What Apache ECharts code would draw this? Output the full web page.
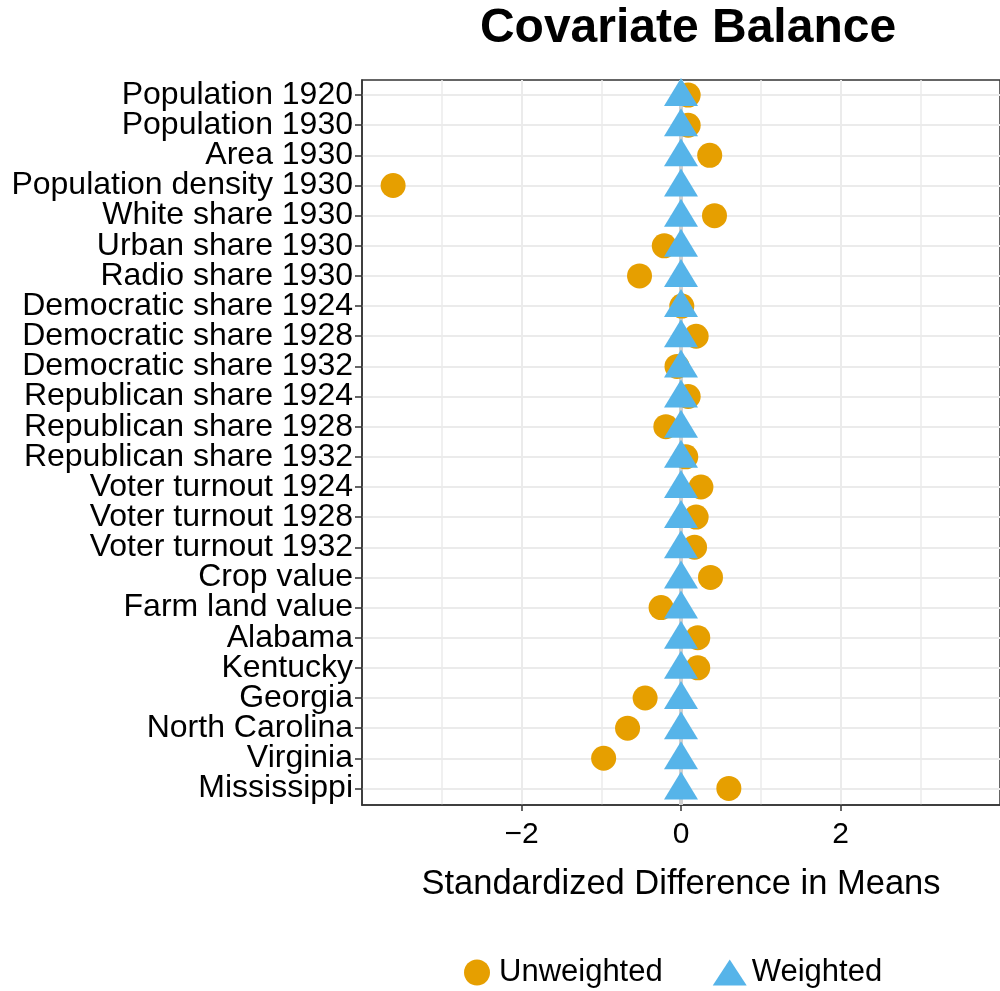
<!DOCTYPE html>
<html>
<head>
<meta charset="utf-8">
<script src="https://cdn.jsdelivr.net/npm/echarts@6/dist/echarts.min.js"></script>
<style>html,body{margin:0;padding:0;background:#fff;}#c{width:1000px;height:991px;}</style>
</head>
<body>
<div id="c"></div>
<script>
const categories = ["Population 1920","Population 1930","Area 1930","Population density 1930","White share 1930","Urban share 1930","Radio share 1930","Democratic share 1924","Democratic share 1928","Democratic share 1932","Republican share 1924","Republican share 1928","Republican share 1932","Voter turnout 1924","Voter turnout 1928","Voter turnout 1932","Crop value","Farm land value","Alabama","Kentucky","Georgia","North Carolina","Virginia","Mississippi"];
const unweighted = [0.09,0.09,0.36,-3.61,0.42,-0.21,-0.52,0.01,0.19,-0.05,0.09,-0.19,0.06,0.25,0.19,0.17,0.37,-0.25,0.21,0.21,-0.45,-0.67,-0.97,0.60];
const weighted = [0,0,0,0,0,0,0,0,0,0,0,0,0,0,0,0,0,0,0,0,0,0,0,0];
const xTicks = [-2,0,2];
const refLine = 0;

const FONT = '"Liberation Sans", Arial, sans-serif';
const idx = categories.map((c,i)=>i);
const xMin = -4, xMax = 4;
const yMin = -0.5, yMax = categories.length - 0.45;
const chart = echarts.init(document.getElementById('c'), null, {renderer:'canvas'});
chart.setOption({
  animation:false,
  backgroundColor:'#fff',
  title:{text:'Covariate Balance', left:'68.3%', textAlign:'center', top:0,
    textStyle:{fontFamily:FONT, fontSize:48, fontWeight:'bold', color:'#000'}},
  legend:{data:['Unweighted','Weighted'], left:459, top:952, itemWidth:34, itemHeight:26, itemGap:50,
    textStyle:{fontFamily:FONT, fontSize:31, color:'#000'}},
  grid:{left:362, right:-5, top:80, bottom:186, show:true, borderColor:'#333', borderWidth:1.5, containLabel:false},
  xAxis:{type:'value', min:xMin, max:xMax, interval:2,
    axisLine:{show:true, onZero:false, lineStyle:{color:'#333', width:1.5}},
    axisTick:{show:true, customValues:xTicks, length:6, lineStyle:{color:'#333', width:1.5}},
    axisLabel:{customValues:xTicks, margin:15, fontFamily:FONT, fontSize:30, color:'#000',
      formatter:v=> v<0 ? '\u2212'+Math.abs(v) : String(v)},
    splitLine:{show:true, lineStyle:{color:'#ebebeb', width:2}},
    minorTick:{show:false, splitNumber:2},
    minorSplitLine:{show:true, lineStyle:{color:'#ebebeb', width:1.5}},
    name:'Standardized Difference in Means', nameLocation:'middle', nameGap:62,
    nameTextStyle:{fontFamily:FONT, fontSize:34.5, color:'#000'}},
  yAxis:{type:'value', min:yMin, max:yMax, inverse:true,
    axisLine:{show:true, onZero:false, lineStyle:{color:'#333', width:1.5}},
    axisTick:{show:true, customValues:idx, length:7, lineStyle:{color:'#333', width:1.5}},
    axisLabel:{show:false, customValues:idx},
    splitLine:{show:true, lineStyle:{color:'#ebebeb', width:2}}},
  series:[
    {name:'ref', type:'line', z:1, silent:true, symbol:'none',
      data:[[refLine,yMin],[refLine,yMax]],
      lineStyle:{color:'#d0d0d0', width:4}},
    {name:'ylabels', type:'scatter', z:4, silent:true, clip:false, symbolSize:0,
      itemStyle:{opacity:1},
      data:categories.map((c,i)=>[xMin,i]),
      label:{show:true, position:'left', distance:9, offset:[0,1], fontFamily:FONT, fontSize:32, color:'#000', opacity:1,
        formatter:p=>categories[p.dataIndex]},
      labelLayout:{hideOverlap:false}},
    {name:'Unweighted', type:'scatter', z:2, symbol:'circle', symbolSize:25,
      itemStyle:{color:'#E69F00', opacity:1},
      data:unweighted.map((v,i)=>[v,i])},
    {name:'Weighted', type:'scatter', z:3, symbol:'triangle', symbolSize:[34,28], symbolOffset:[0,-3],
      itemStyle:{color:'#56B4E9', opacity:1},
      data:weighted.map((v,i)=>[v,i])}
  ]
});
</script>
</body>
</html>
